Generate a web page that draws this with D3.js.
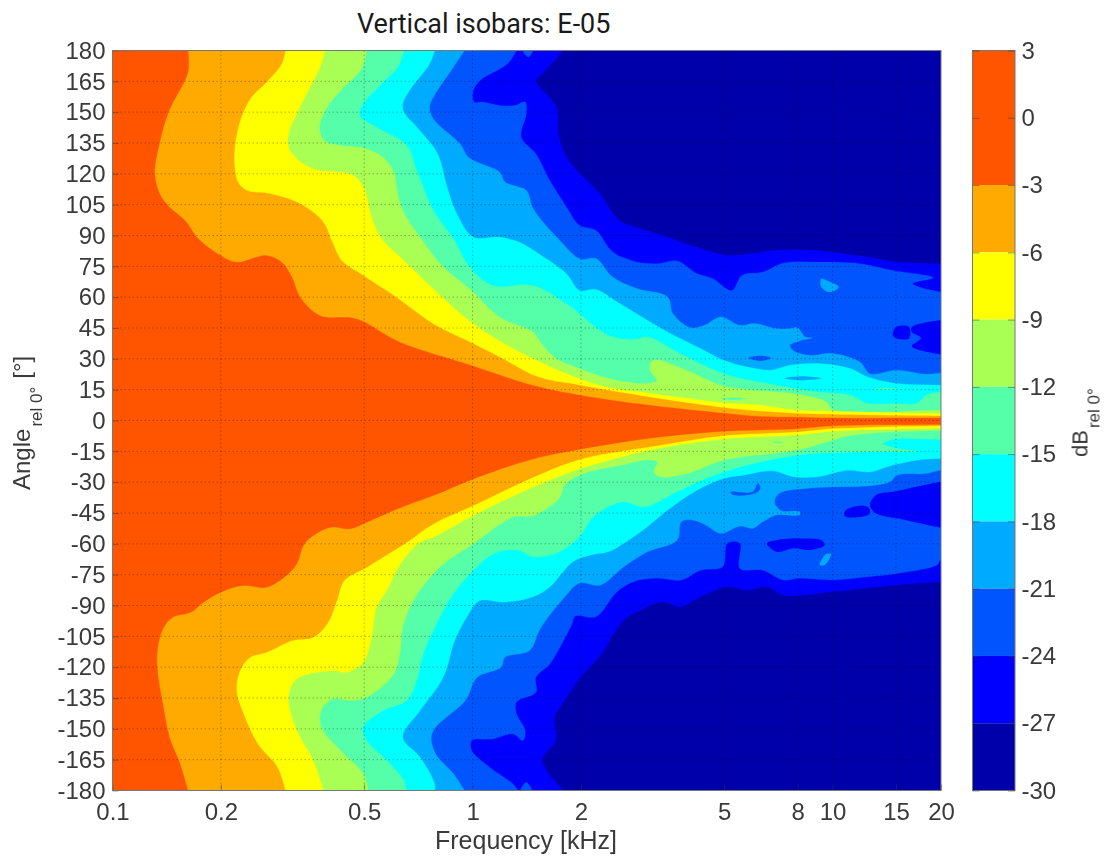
<!DOCTYPE html>
<html><head><meta charset="utf-8">
<script src="https://cdn.jsdelivr.net/npm/d3@7/dist/d3.min.js"></script>
<style>html,body{margin:0;padding:0;background:#fff}svg{display:block}
.soft{filter:blur(0.7px)}</style></head><body>
<svg id="c" width="1105" height="859"></svg>
<script>
// Frequency [kHz], angle [deg] along each isobar. Upper half from +180 inward, lower half from the centre to -180.
const upperM3=[[.162,180],[.162,169.5],[.143,150],[.135,134.6],[.131,120],[.136,109.4],[.144,103.8],[.159,97.3],[.173,88.4],[.2,80.2],[.221,77],[.268,80.2],[.295,77],[.315,69.7],[.332,60],[.377,51],[.476,49.4],[.63,38],[.963,27.5],[1.474,17],[1.98,12.3],[3.11,7.4],[4.98,3.5],[6.3,1.9],[7.97,1.6],[10,1.2],[20,1.2],[30,1.2]];
const lowerM3=[[30,-1.9],[20,-1.9],[10,-2.6],[7.97,-4],[6.3,-4.6],[4.98,-5.2],[3.11,-8.6],[1.99,-14],[1.474,-18.7],[1.005,-28.4],[.778,-36.5],[.617,-43],[.508,-49.5],[.457,-52.7],[.405,-51.9],[.361,-56],[.339,-60.8],[.325,-69.7],[.304,-75.4],[.268,-81.1],[.23,-80.3],[.2,-83.5],[.179,-88.4],[.165,-93.3],[.147,-95.7],[.138,-101.4],[.133,-113.5],[.134,-124.9],[.138,-137.9],[.144,-154.1],[.154,-167],[.162,-180]];
const upperM6=[[.302,180],[.295,173.5],[.268,164.6],[.243,157.3],[.228,147.6],[.219,134.6],[.218,124.9],[.223,116],[.236,111.9],[.274,110.3],[.332,105.4],[.385,96.5],[.406,87.5],[.433,77.8],[.497,70.5],[.604,60.8],[.778,47],[.963,38.9],[1.19,30.8],[1.53,21],[1.98,17.2],[3.11,11.3],[4.98,6.2],[6.3,4.5],[7.97,3.4],[10,2.9],[20,2.2],[30,2.2]];
const lowerM6=[[30,-2.6],[20,-2.6],[10,-3.9],[7.97,-5.5],[6.3,-6.3],[4.98,-7.3],[3.11,-12.8],[1.99,-18.8],[1.474,-27.6],[1.005,-41.4],[.778,-50.3],[.657,-59.2],[.508,-71.4],[.44,-77.9],[.42,-87.6],[.395,-98.9],[.361,-105.4],[.316,-107],[.268,-112.7],[.241,-115.2],[.226,-121.7],[.221,-131.4],[.231,-142.7],[.253,-157.3],[.287,-168.7],[.302,-180]];
const upperM9=[[.39,180],[.377,171.9],[.346,158.9],[.325,149.2],[.308,139.4],[.308,133],[.325,127.3],[.361,122.4],[.467,119.2],[.502,111.9],[.524,98.9],[.555,89.2],[.63,79.4],[.778,64],[1.005,47],[1.41,31.6],[2.26,17],[3.11,13.3],[4.98,8.6],[6.3,7.4],[7.97,5],[10,4.5],[20,3.4],[30,3.4]];
const lowerM9=[[30,-3.9],[20,-3.9],[10,-5.2],[7.97,-7.1],[6.3,-8],[4.98,-9],[3.11,-14.4],[1.99,-23.5],[1.474,-32.4],[1.005,-46.2],[.778,-56.8],[.715,-59.2],[.63,-69.7],[.578,-82.7],[.541,-90.8],[.524,-105.4],[.497,-117.6],[.448,-122.5],[.411,-121.7],[.325,-125.7],[.308,-134.6],[.325,-150.8],[.361,-165.4],[.385,-180]];
const upperM12=[[.508,180],[.492,171.1],[.43,160.5],[.395,152.4],[.376,142.7],[.387,136.2],[.43,133.8],[.497,132.6],[.565,128],[.604,120.8],[.617,111.9],[.64,102.2],[.715,89.2],[.83,74.6],[.983,64],[1.19,50.2],[1.474,42.9],[1.54,38.2],[1.71,30.1],[1.98,25.3],[2.45,19.9],[3.06,18],[3.25,19.6],[3.11,24.5],[3.17,29.3],[3.92,24.5],[4.98,16.8],[7.97,12.8],[9.6,9],[10,5.2],[20,5],[30,5]];
const lowerM12=[[30,-4.8],[20,-4.8],[11.4,-7.1],[10,-9.6],[7.97,-14.4],[4.98,-19.3],[3.94,-25.8],[3.33,-27.4],[3.19,-25],[3.26,-20.1],[3,-19.3],[2.6,-21.7],[2.04,-25.8],[1.8,-31.5],[1.74,-37.9],[1.474,-46.2],[1.295,-47],[1.005,-60],[.81,-71.4],[.685,-87.6],[.64,-100.6],[.63,-111.9],[.604,-123.3],[.508,-134.6],[.457,-136.2],[.411,-135.4],[.38,-141.1],[.38,-149.2],[.43,-160.6],[.497,-171.9],[.513,-180]];
const upperM15=[[.645,180],[.62,171.9],[.565,164.6],[.497,154],[.486,148.4],[.541,142.7],[.657,133.8],[.695,123.2],[.73,113.5],[.778,102.2],[.885,88.4],[.983,74.6],[1.14,65.6],[1.474,65.6],[1.825,56.7],[2.38,41.5],[2.8,39.4],[3.06,40.6],[3.77,32.6],[4.98,22.8],[6.57,18],[9.06,13.9],[11.2,12.3],[12.5,8.3],[15.1,8.3],[17.1,8.3],[18.2,12.3],[20,13.9],[30,13.9]];
const lowerM15=[[30,-9.2],[20,-9.2],[14.7,-9.2],[13.8,-11.2],[15.1,-13.6],[17.1,-14.9],[12.5,-15.3],[7.97,-16.9],[4.98,-25],[3.77,-33.9],[3,-42],[2.6,-39.6],[2.16,-46.9],[1.98,-56.6],[1.74,-63.9],[1.474,-66.3],[1.33,-63],[1.14,-64.9],[1.005,-73],[.885,-84.3],[.795,-98.9],[.73,-113.5],[.7,-126.5],[.657,-136.2],[.565,-141.1],[.497,-149.2],[.508,-155.7],[.578,-165.4],[.645,-175.2],[.655,-180]];
const upperM18=[[.785,180],[.76,173.5],[.668,160.5],[.64,154],[.645,150],[.715,141],[.8,129.7],[.85,113.5],[.905,100.5],[1.005,89.2],[1.19,89.2],[1.35,86.7],[1.53,81],[1.825,71.3],[1.98,63.3],[2.2,63.7],[2.52,57.7],[3,49.6],[3.48,43.1],[4.3,35],[4.98,29.3],[5.8,26],[6.7,24.5],[7.62,26.9],[9.06,27.7],[11.19,25.3],[12.5,21.2],[15.1,18],[20,17.2],[30,17.2]];
const lowerM18=[[30,-18.5],[20,-18.5],[17.1,-19.3],[14.7,-21.7],[12.7,-25],[11,-24.2],[9.06,-27.4],[7.8,-27.4],[6.8,-24.5],[5.65,-26.6],[4.98,-28.2],[4.2,-33.9],[3.48,-43.6],[3.06,-51.7],[2.67,-59],[2.38,-63.9],[2.12,-65.5],[1.9,-68.7],[1.64,-80.9],[1.474,-85.8],[1.22,-88.4],[1.05,-87.6],[.963,-95.7],[.885,-108.7],[.85,-120],[.81,-128.1],[.715,-141.1],[.64,-154.1],[.715,-163.8],[.785,-176.8],[.785,-180]];
const upperM21=[[.95,180],[.885,171.9],[.778,157.3],[.76,152.4],[.778,146.7],[.923,134.6],[.975,128],[1.19,120.8],[1.23,116],[1.41,111.9],[1.474,103],[1.75,87.5],[1.99,78.6],[2.2,78.8],[2.45,69.8],[2.86,64.2],[3.48,60.1],[3.6,52],[4.02,45.2],[4.4,46.3],[4.89,50.4],[5.53,46.3],[6.06,47.2],[6.98,44.7],[7.62,44.7],[7.97,45.2],[8.4,40.6],[8.8,40.2],[8.1,38.7],[7.62,36.6],[7.8,33.8],[8.66,31.7],[10,32.6],[11.9,28.5],[12.7,22.8],[15.1,24.5],[18.2,22.5],[20,23.1],[30,23.1]];
const lowerM21=[[30,-24.2],[20,-24.2],[18.2,-25.8],[15.1,-26.6],[14.45,-29.8],[12.5,-31.9],[10,-32.3],[8.4,-33.1],[7.1,-35.5],[6.9,-39.6],[7.2,-43.9],[8.1,-44.4],[8.1,-46],[6.98,-46],[6.4,-49.3],[6,-52.5],[5.53,-51.4],[4.89,-54.9],[4.45,-50.9],[4.1,-48.5],[3.8,-49.3],[3.7,-58.2],[3.06,-63.9],[2.63,-71.2],[2.26,-80.1],[1.98,-79.2],[1.79,-86.5],[1.54,-101.4],[1.44,-111.9],[1.23,-115.2],[1.2,-120],[1.03,-124.9],[.955,-136.2],[.79,-149.2],[.768,-154.1],[.79,-162.2],[.885,-171.9],[.95,-180]];
const upperM24=[[1.325,180],[1.25,173.5],[1.05,165.4],[1.005,160.5],[1.01,154.9],[1.07,154.9],[1.19,153.2],[1.31,153.2],[1.4,154.9],[1.41,149.2],[1.365,137.8],[1.5,129.7],[1.64,116.7],[1.825,103.8],[1.98,95],[2.2,92.5],[2.45,82],[2.86,77.1],[3.25,76.3],[3.7,77.6],[4.2,71.5],[4.65,69],[5.25,63.3],[5.6,70.6],[6.4,72.2],[7.3,76.6],[9.06,77.1],[11.9,76.3],[14.7,73],[19,69.5],[16.7,66.6],[20,62.5],[30,62.5]];
const lowerM24=[[30,-67.9],[20,-67.9],[19.5,-70.3],[15.1,-74.4],[12.5,-76],[10,-77.6],[8.1,-76.8],[7.3,-77.6],[6.4,-72.8],[5.53,-72],[5.53,-59.8],[5.1,-59.8],[4.95,-71.2],[4.3,-72.8],[3.8,-77.6],[3.25,-76.8],[2.8,-78.4],[2.52,-83.3],[2.2,-95.5],[1.93,-95.1],[1.89,-98.9],[1.79,-107],[1.64,-118.4],[1.5,-124.9],[1.5,-132.2],[1.325,-137],[1.325,-142.7],[1.4,-150.8],[1.38,-155.7],[1.295,-152.5],[1.14,-154.9],[.995,-155.7],[.995,-160.6],[1.115,-168.7],[1.295,-176.8],[1.34,-180]];
const upperM27=[[1.79,180],[1.56,168.6],[1.5,165.4],[1.71,152.4],[1.73,139.4],[1.825,128],[1.99,120],[2.26,110.2],[2.55,97.4],[2.92,93.3],[3.48,89.3],[4.02,85.2],[5.1,80.4],[6,81.3],[6.98,82.8],[8.8,82.8],[12.5,79.5],[15.1,77.1],[20,76.3],[30,76.3]];
const lowerM27=[[30,-78.5],[20,-78.5],[15.1,-80],[10,-83.3],[7.3,-84.9],[6.57,-80.9],[5.8,-82.5],[5.1,-80.9],[4.3,-85.8],[3.77,-90.6],[3.35,-88.2],[3,-91.4],[2.63,-97.1],[2.26,-114.4],[1.99,-124.9],[1.825,-134.6],[1.69,-144.4],[1.7,-155.7],[1.56,-165.4],[1.79,-180]];

// Small closed pockets: level index (see bandColors) and outline.
const pockets=[
 [7,[[1.38,180],[1.47,180],[1.43,176.8]]],
 [7,[[1.36,-180],[1.46,-180],[1.41,-176]]],
 [6,[[9.3,69],[9.6,68.2],[10.4,65],[9.84,62.5],[9.3,65]]],
 [7,[[5.85,30.4],[6.3,31.5],[6.75,30.4],[6.3,29]]],
 [6,[[7.35,20.5],[8.2,21.5],[9.3,20.5],[8.2,19.5]]],
 [8,[[15,45.5],[16.3,45.5],[16.3,39.9],[15.1,39.9],[14.7,41.5]]],
 [8,[[16.6,45.5],[25,47.3],[25,32.7],[18.2,33.4],[16.6,36.2],[17.6,40],[16.6,43]]],
 [4,[[4.9,10.6],[5.3,11.2],[5.75,10.6],[5.3,10]]],
 [4,[[13,15.3],[14,15.7],[15.2,15.3],[14,14.9]]],
 [7,[[5.2,-34.7],[6,-34.7],[6.2,-30.5],[6.3,-33],[6.1,-35.4],[5.3,-36.3]]],
 [8,[[6.57,-59.8],[7.62,-57.4],[8.25,-57.4],[9.3,-58.2],[9.5,-60.6],[8.66,-63],[7.8,-62.2],[7,-63.9]]],
 [8,[[13.2,-36.3],[14.7,-34.7],[25,-30.5],[25,-51.5],[15.1,-47.6],[13.1,-44.9],[12.7,-41]]],
 [8,[[10.8,-44.4],[11.4,-42],[12.5,-42],[12.7,-45.2],[11.4,-47.2],[10.8,-46.5]]],
 [6,[[9.6,-65],[9.9,-65],[9.5,-70.3],[9.2,-70.3]]],
 [4,[[6.8,-10.4],[7.3,-10.4],[7,-11]]]
];

const bandColors=["#ff5500","#ffaa00","#ffff00","#aaff55","#55ffaa","#00ffff","#00aaff","#0055ff","#0000ff","#0000aa"];
const bandEdges=[3,-3,-6,-9,-12,-15,-18,-21,-24,-27,-30];
const dbTicks=[3,0,-3,-6,-9,-12,-15,-18,-21,-24,-27,-30];
const angleTicks=d3.range(180,-181,-15);
const freqTicks=[0.1,0.2,0.5,1,2,5,8,10,15,20];
const isobars=[[upperM27,lowerM27],[upperM24,lowerM24],[upperM21,lowerM21],[upperM18,lowerM18],[upperM15,lowerM15],[upperM12,lowerM12],[upperM9,lowerM9],[upperM6,lowerM6],[upperM3,lowerM3]];

const L=112.5,R=941,T=50.5,B=790.5,CL=972.5,CR=1015;
const x=d3.scaleLog().domain([0.1,20]).range([L,R]);
const y=d3.scaleLinear().domain([-180,180]).range([B,T]);
const yc=d3.scaleLinear().domain([-30,3]).range([B,T]);
const svg=d3.select("#c");
const ink="#3a3a3a", tickFont="'Liberation Sans',Arial,sans-serif", tickSize=24;
svg.append("defs").append("clipPath").attr("id","pc").append("rect").attr("x",L).attr("y",T).attr("width",R-L).attr("height",B-T);
const soft=svg.append("g").attr("class","soft");
const plot=soft.append("g").attr("clip-path","url(#pc)");
plot.append("rect").attr("x",L).attr("y",T).attr("width",R-L).attr("height",B-T).attr("fill",bandColors[9]);
const line=d3.line().x(d=>x(d[0])).y(d=>y(d[1])).curve(d3.curveCatmullRom.alpha(0.5));
isobars.forEach(([u,l],i)=>{
  const col=bandColors[8-i];
  plot.append("path").attr("fill",col).attr("stroke",col).attr("stroke-width",0.3)
    .attr("d",line(u.concat(l))+`L${x(0.05)},${y(-181)}L${x(0.05)},${y(181)}Z`);
});
const closed=d3.line().x(d=>x(d[0])).y(d=>y(d[1])).curve(d3.curveCatmullRomClosed.alpha(0.5));
pockets.forEach(([c,p])=>plot.append("path").attr("fill",bandColors[c]).attr("d",closed(p)));

// grid
const grid=soft.append("g").attr("clip-path","url(#pc)").attr("stroke","#000").attr("stroke-opacity",.3).attr("stroke-dasharray","1.5 2.5");
angleTicks.slice(1,-1).forEach(a=>grid.append("line").attr("x1",L).attr("x2",R).attr("y1",y(a)).attr("y2",y(a)));
freqTicks.slice(1,-1).forEach(f=>grid.append("line").attr("x1",x(f)).attr("x2",x(f)).attr("y1",T).attr("y2",B));

// axes
const styleAxis=(g)=>{g.selectAll("text").attr("fill",ink).attr("font-family",tickFont).attr("font-size",tickSize);
  g.selectAll("line").attr("stroke",ink).attr("stroke-opacity",.5);g.select(".domain").remove();};
soft.append("g").attr("transform",`translate(0,${B})`)
  .call(d3.axisBottom(x).tickValues(freqTicks).tickFormat(d=>String(d)).tickSize(-6).tickPadding(12.5)).call(styleAxis);
soft.append("g").attr("transform",`translate(${L},0)`)
  .call(d3.axisLeft(y).tickValues(angleTicks).tickFormat(d=>String(d)).tickSize(-6).tickPadding(7)).call(styleAxis);
soft.append("rect").attr("x",L).attr("y",T).attr("width",R-L).attr("height",B-T).attr("fill","none").attr("stroke","#777").attr("stroke-width",1);

// colorbar
const cb=soft.append("g");
bandColors.forEach((c,i)=>cb.append("rect").attr("x",CL).attr("width",CR-CL).attr("y",yc(bandEdges[i])).attr("height",yc(bandEdges[i+1])-yc(bandEdges[i])).attr("fill",c));
cb.append("rect").attr("x",CL).attr("y",T).attr("width",CR-CL).attr("height",B-T).attr("fill","none").attr("stroke","#777");
cb.append("g").attr("transform",`translate(${CR},0)`)
  .call(d3.axisRight(yc).tickValues(dbTicks).tickFormat(d=>String(d)).tickSize(-7).tickPadding(6.5)).call(styleAxis);
cb.append("g").attr("transform",`translate(${CL},0)`)
  .call(d3.axisRight(yc).tickValues(dbTicks).tickFormat("").tickSize(7)).call(styleAxis);

// labels
soft.append("text").attr("x",526).attr("y",849).attr("text-anchor","middle").attr("fill",ink).attr("font-family",tickFont).attr("font-size",25).text("Frequency [kHz]");
const yl=soft.append("text").attr("transform","translate(30,490) rotate(-90)").attr("fill",ink).attr("font-family",tickFont).attr("font-size",24);
yl.append("tspan").text("Angle");
yl.append("tspan").attr("font-size",17).attr("dx",2).attr("dy",12).text("rel 0°");
yl.append("tspan").attr("dx",8).attr("dy",-12).text("[°]");
const dl=soft.append("text").attr("transform","translate(1087.5,457) rotate(-90)").attr("fill",ink).attr("font-family",tickFont).attr("font-size",22);
dl.append("tspan").text("dB");
dl.append("tspan").attr("font-size",17).attr("dx",2).attr("dy",12).text("rel 0°");
svg.append("text").attr("x",357).attr("y",33).attr("fill","#1a1a1a").attr("font-family","Roboto,sans-serif").attr("font-size",27).text("Vertical isobars: E-05");
</script></body></html>
